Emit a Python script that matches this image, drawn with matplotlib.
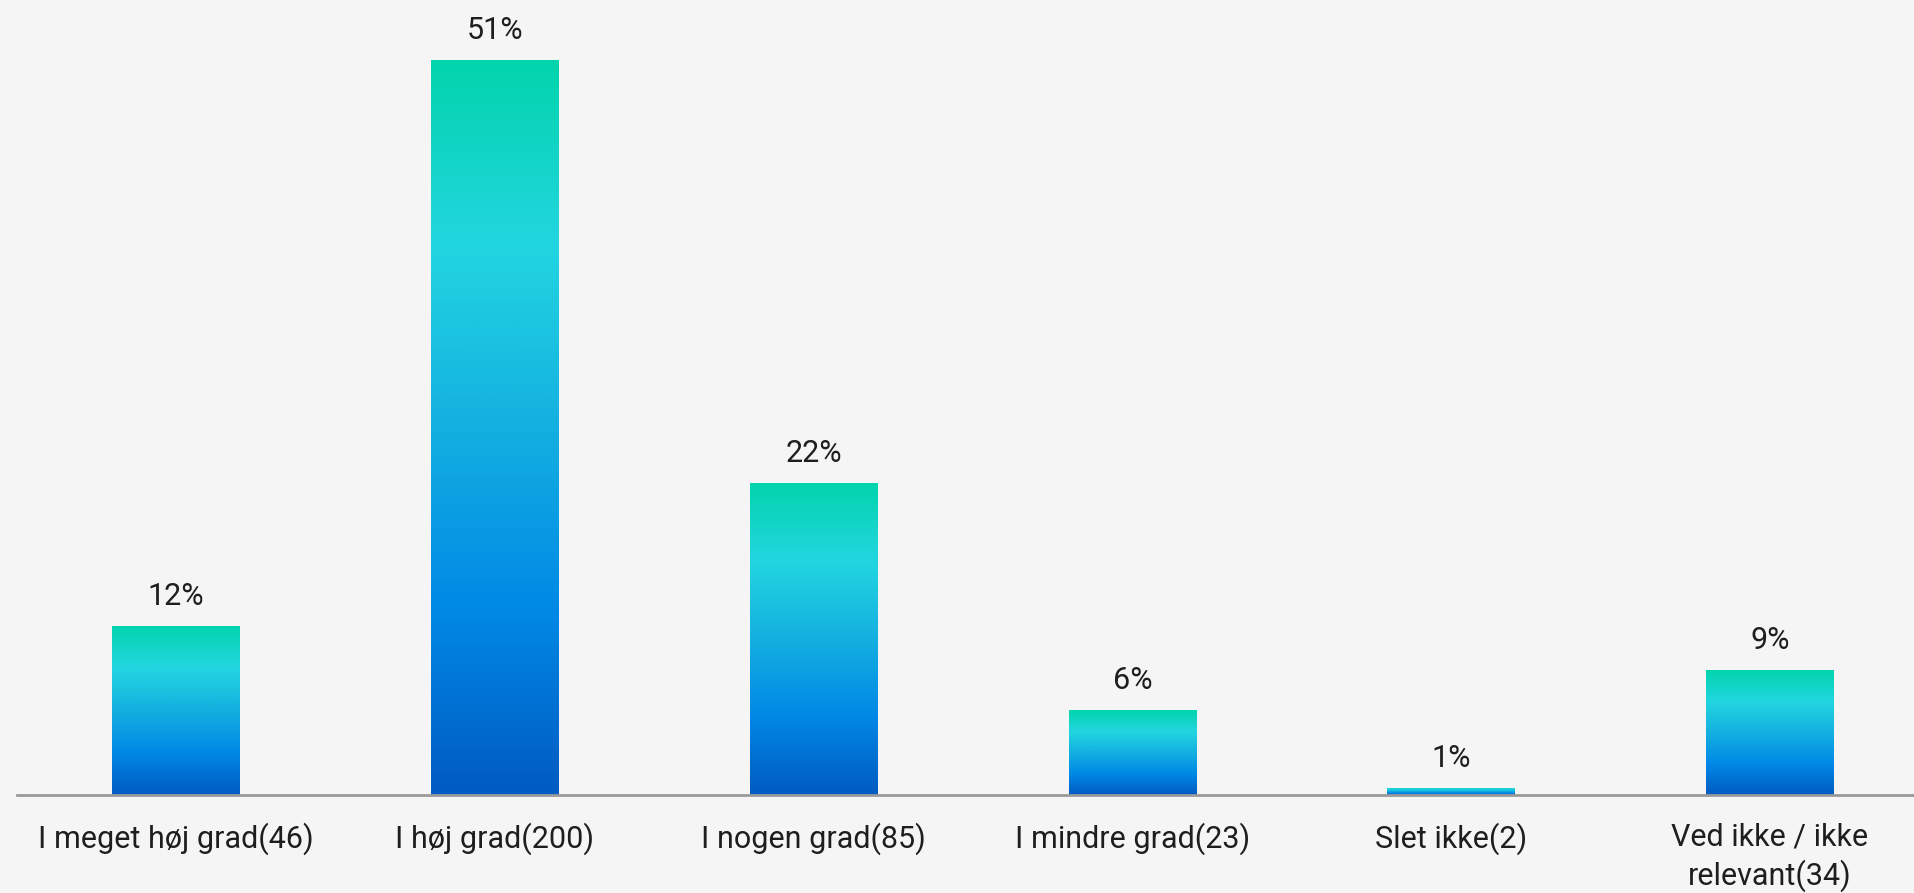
import matplotlib
matplotlib.use("Agg")
import matplotlib.pyplot as plt
import numpy as np
from matplotlib.colors import LinearSegmentedColormap

categories = ["I meget høj grad(46)", "I høj grad(200)", "I nogen grad(85)",
              "I mindre grad(23)", "Slet ikke(2)", "Ved ikke / ikke\nrelevant(34)"]
counts = [46, 200, 85, 23, 2, 34]
pct_labels = ["12%", "51%", "22%", "6%", "1%", "9%"]

plt.rcParams['font.family'] = ['Roboto', 'DejaVu Sans']

# gradient top -> bottom
grad = LinearSegmentedColormap.from_list(
    "bar", [(0.0, "#005bc2"), (0.25, "#0088e6"), (0.5, "#14b0e0"),
            (0.75, "#22d6e0"), (1.0, "#02d4ac")])

bg = "#f5f5f5"
fig = plt.figure(figsize=(19.15, 8.93), dpi=100, facecolor=bg)
W, H = 1915, 893
ax = fig.add_axes([16.6 / W, 98 / H, 1912.8 / W, 795 / H])
ax.set_facecolor(bg)

x = np.arange(len(categories))
bars = ax.bar(x, counts, width=0.4, color="none", edgecolor="none")
g = np.linspace(0, 1, 256).reshape(-1, 1)
for b in bars:
    x0, y0 = b.get_x(), b.get_y()
    w, h = b.get_width(), b.get_height()
    im = ax.imshow(g, cmap=grad, origin="lower", aspect="auto",
                   extent=[x0, x0 + w, y0, y0 + h], zorder=2)
    im.set_clip_path(b)

for xi, c, lab in zip(x, counts, pct_labels):
    ax.annotate(lab, (xi, c), xytext=(0, 21), textcoords="offset pixels",
                ha="center", va="baseline", fontsize=22, color="#1e1e1e")

ax.set_xlim(-0.5, 5.5)
ax.set_ylim(0, 795 / 3.675)
ax.set_xticks(x)
ax.set_xticklabels(categories, fontsize=22, color="#1e1e1e", linespacing=1.3)
ax.tick_params(axis="x", length=0, pad=20)
ax.set_yticks([])
for s in ["top", "right", "left"]:
    ax.spines[s].set_visible(False)
ax.spines["bottom"].set_color("#9a9a9a")
ax.spines["bottom"].set_linewidth(2)

plt.savefig("out.png", dpi=100, facecolor=bg)
plt.close(fig)
